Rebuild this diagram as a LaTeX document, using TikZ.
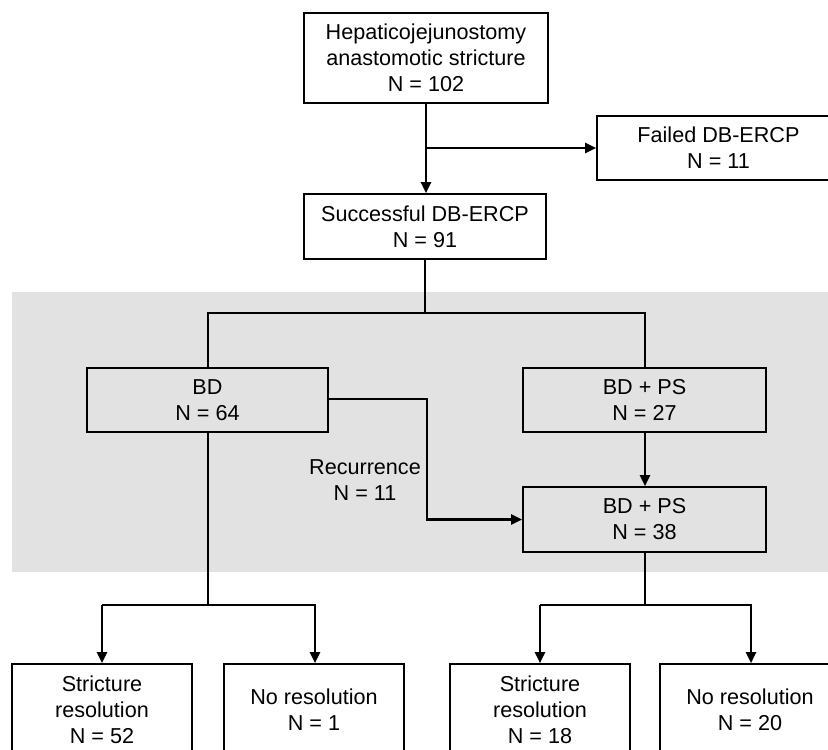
\documentclass[tikz,border=0pt]{standalone}
\usepackage{fontspec}
\setmainfont{Liberation Sans}
\usetikzlibrary{arrows.meta,positioning}
\definecolor{bandgray}{HTML}{E2E2E2}
\begin{document}
\begin{tikzpicture}[x=1pt,y=-1pt,
  box/.style={draw=black,line width=1.6pt,rectangle,align=center,inner sep=0pt,
    font=\fontsize{21.6}{26}\selectfont},
  conn/.style={draw=black,line width=2.4pt},
  arr/.style={conn,-{Triangle[length=11pt,width=10pt]}},
  lbl/.style={align=center,font=\fontsize{21.6}{26}\selectfont}]
\useasboundingbox (0,0) rectangle (828,750);
\fill[bandgray] (12,292) rectangle (845,572);
\node[box,minimum width=244pt,minimum height=90pt] (top) at (426,58) {Hepaticojejunostomy\\anastomotic stricture\\N = 102};
\node[box,minimum width=243pt,minimum height=64pt] (fail) at (718.5,148) {Failed DB-ERCP\\N = 11};
\node[box,minimum width=242pt,minimum height=65pt] (succ) at (425,226.5) {Successful DB-ERCP\\N = 91};
\node[box,minimum width=241pt,minimum height=64pt] (bd) at (207.5,400) {BD\\N = 64};
\node[box,minimum width=243pt,minimum height=64pt] (bdps) at (644.5,400) {BD + PS\\N = 27};
\node[box,minimum width=243pt,minimum height=65pt] (bdpsb) at (644.5,519.5) {BD + PS\\N = 38};
\node[box,minimum width=180pt,minimum height=92pt] (sr1) at (102,710) {Stricture\\resolution\\N = 52};
\node[box,minimum width=180pt,minimum height=92pt] (nr1) at (314,710) {No resolution\\N = 1};
\node[box,minimum width=180pt,minimum height=92pt] (sr2) at (540,710) {Stricture\\resolution\\N = 18};
\node[box,minimum width=180pt,minimum height=92pt] (nr2) at (750,710) {No resolution\\N = 20};
\node[lbl] (rec) at (365,480) {Recurrence\\N = 11};
\coordinate (j1) at (426,148);
\coordinate (j2) at (425,313);
\coordinate (j3) at (208,605);
\coordinate (j4) at (645,605);
% connectors
\draw[arr] (top.south -| j1) -- (succ.north -| j1);
\draw[arr] (j1) -- (fail.west);
\draw[conn] (succ.south -| j2) -- (j2);
\draw[conn] (bd.north -| 208,0) -- (208,313) -- (645,313) -- (bdps.north -| 645,0);
\draw[arr] (bd.east |- 0,399) -- (427,399) -- (427,519.5) -- (bdpsb.west);
\draw[arr] (bdps.south -| 645,0) -- (bdpsb.north -| 645,0);
\draw[conn] (bd.south -| j3) -- (j3);
\draw[arr] (102,605) -- (sr1.north);
\draw[arr] (j3) -| (315,605) -- (nr1.north -| 315,0);
\draw[conn] (102,605) -- (j3);
\draw[conn] (bdpsb.south -| j4) -- (j4);
\draw[arr] (540,605) -- (sr2.north);
\draw[arr] (j4) -| (751,605) -- (nr2.north -| 751,0);
\draw[conn] (540,605) -- (j4);
\end{tikzpicture}
\end{document}
